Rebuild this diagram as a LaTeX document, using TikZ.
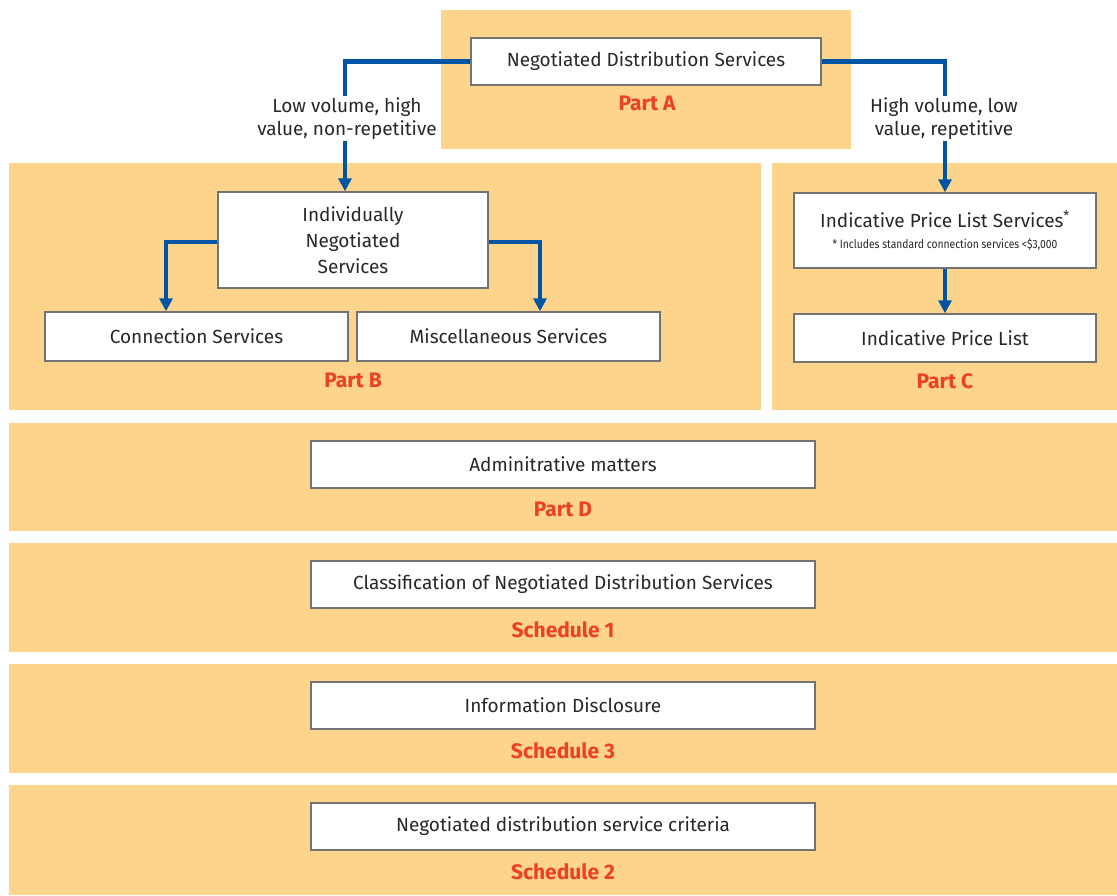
\documentclass[tikz,border=0pt]{standalone}
\usepackage{fontspec}
\usepackage{graphicx}
\setmainfont{Fira Sans}
\usetikzlibrary{arrows.meta}
\definecolor{panelc}{RGB}{252,212,140}
\definecolor{linec}{RGB}{0,84,164}
\definecolor{redc}{RGB}{236,64,40}
\definecolor{boxb}{RGB}{115,115,115}
\definecolor{txt}{RGB}{40,40,40}
\begin{document}
\begin{tikzpicture}[x=1pt,y=-1pt,
  panel/.style={fill=panelc,draw=none},
  box/.style={draw=boxb,line width=1.5pt,fill=white,inner sep=0pt,align=center,
    text=txt,font=\fontsize{19}{26}\selectfont},
  lbl/.style={text=redc,font=\fontsize{21}{24}\selectfont\bfseries},
  note/.style={text=txt,fill=white,inner xsep=0pt,inner ysep=2pt,align=center,font=\fontsize{19}{23}\selectfont},
  conn/.style={draw=linec,line width=4.5pt,
    -{Triangle[width=13pt,length=13pt]}}]
\useasboundingbox (0,0) rectangle (1117,895);
% panels
\fill[panel] (441,10) rectangle (851,149);
\fill[panel] (9,163) rectangle (761,410);
\fill[panel] (772,163) rectangle (1117,410);
\fill[panel] (9,423) rectangle (1117,531);
\fill[panel] (9,543) rectangle (1117,652);
\fill[panel] (9,664) rectangle (1117,773);
\fill[panel] (9,785) rectangle (1117,895);
% boxes
\node[box,minimum width=350,minimum height=47] (nds) at (646,61.5) {Negotiated Distribution Services};
\node[box,minimum width=270,minimum height=96] (ins) at (353,240) {Individually\\Negotiated\\Services};
\node[box,minimum width=303,minimum height=49] (con) at (196.5,336.5) {Connection Services};
\node[box,minimum width=303,minimum height=49] (misc) at (508.5,336.5) {Miscellaneous Services};
\node[box,minimum width=302,minimum height=75] (ipls) at (945,230.5) {Indicative Price List Services\textsuperscript{*}\\[-5pt]
  {\fontsize{12}{14}\selectfont\scalebox{0.86}[1]{* Includes standard connection services <\$3,000}}};
\node[box,minimum width=302,minimum height=48] (ipl) at (945,338) {Indicative Price List};
\node[box,minimum width=504,minimum height=47] (adm) at (563,464.5) {Adminitrative matters};
\node[box,minimum width=504,minimum height=47] (cls) at (563,584.5) {Classification of Negotiated Distribution Services};
\node[box,minimum width=504,minimum height=47] (inf) at (563,705.5) {Information Disclosure};
\node[box,minimum width=504,minimum height=47] (crit) at (563,826.5) {Negotiated distribution service criteria};
% labels
\node[lbl] (la) at (647,103) {Part A};
\node[lbl] (lb) at (353,380) {Part B};
\node[lbl] (lc) at (945,381) {Part C};
\node[lbl] (ld) at (563,509) {Part D};
\node[lbl] (ls1) at (563,630) {Schedule 1};
\node[lbl] (ls3) at (563,751) {Schedule 3};
\node[lbl] (ls2) at (563,872) {Schedule 2};
% connectors
\draw[conn] (nds.west) -| ([xshift=-8]ins.north);
\draw[conn] (nds.east) -| (ipls.north);
\draw[conn] ([yshift=-2]ins.west) -| ([xshift=-30.5]con.north);
\draw[conn] ([yshift=-2]ins.east) -| ([xshift=31.5]misc.north);
\draw[conn] (ipls.south) -- (ipl.north);
% notes (drawn over the lines)
\node[note] (nl) at (347,118.5) {Low volume, high\\value, non-repetitive};
\node[note] (nr) at (944,118.5) {High volume, low\\value, repetitive};
\end{tikzpicture}
\end{document}
